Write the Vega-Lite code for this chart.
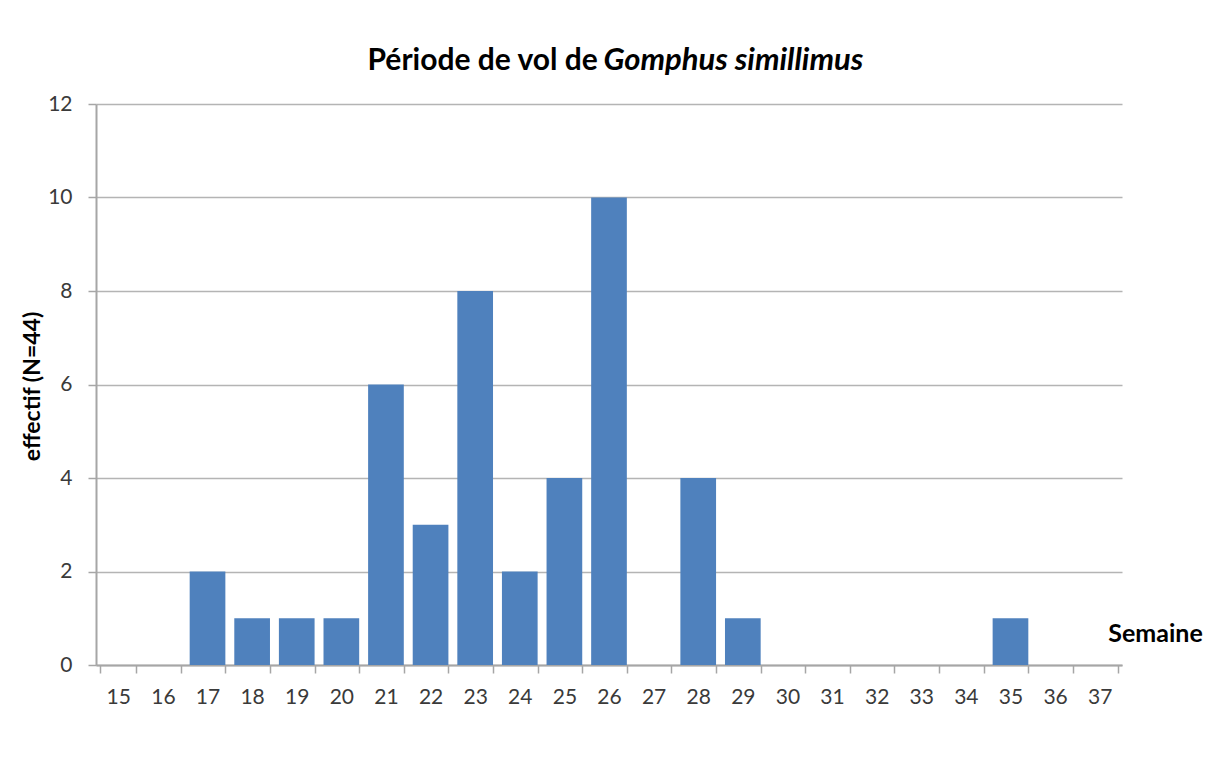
{
  "$schema": "https://vega.github.io/schema/vega-lite/v6.json",
  "width": 1026,
  "height": 561,
  "autosize": "none",
  "padding": {"left": 96, "top": 104, "right": 86, "bottom": 106},
  "background": "white",
  "config": {
    "font": "Lato",
    "view": {"stroke": null},
    "axis": {"labelFont": "Lato", "titleFont": "Lato"}
  },
  "data": {
    "values": [
      {"semaine": 15, "effectif": 0},
      {"semaine": 16, "effectif": 0},
      {"semaine": 17, "effectif": 2},
      {"semaine": 18, "effectif": 1},
      {"semaine": 19, "effectif": 1},
      {"semaine": 20, "effectif": 1},
      {"semaine": 21, "effectif": 6},
      {"semaine": 22, "effectif": 3},
      {"semaine": 23, "effectif": 8},
      {"semaine": 24, "effectif": 2},
      {"semaine": 25, "effectif": 4},
      {"semaine": 26, "effectif": 10},
      {"semaine": 27, "effectif": 0},
      {"semaine": 28, "effectif": 4},
      {"semaine": 29, "effectif": 1},
      {"semaine": 30, "effectif": 0},
      {"semaine": 31, "effectif": 0},
      {"semaine": 32, "effectif": 0},
      {"semaine": 33, "effectif": 0},
      {"semaine": 34, "effectif": 0},
      {"semaine": 35, "effectif": 1},
      {"semaine": 36, "effectif": 0},
      {"semaine": 37, "effectif": 0}
    ]
  },
  "layer": [
    {
      "mark": {"type": "bar", "color": "#4f81bd"},
      "encoding": {
        "x": {
          "field": "semaine",
          "type": "ordinal",
          "scale": {"paddingInner": 0.2, "paddingOuter": 0.1},
          "axis": {
            "orient": "bottom",
            "labelAngle": 0,
            "labelFontSize": 21,
            "labelColor": "#3a3a3a",
            "labelPadding": 13,
            "tickBand": "extent",
            "tickSize": 8,
            "tickColor": "#a6a6a6",
            "tickWidth": 1.5,
            "domainColor": "#a6a6a6",
            "domainWidth": 2,
            "grid": false,
            "title": "Semaine",
            "titleFontSize": 25,
            "titleFontWeight": "bold",
            "titleColor": "#000000",
            "titleAngle": 0,
            "titleAlign": "center",
            "titleBaseline": "middle",
            "titleX": 1059,
            "titleY": -32
          }
        },
        "y": {
          "field": "effectif",
          "type": "quantitative",
          "scale": {"domain": [0, 12]},
          "axis": {
            "orient": "left",
            "values": [0, 2, 4, 6, 8, 10, 12],
            "labelFontSize": 21,
            "labelColor": "#3a3a3a",
            "labelPadding": 16,
            "tickSize": 8,
            "tickColor": "#a6a6a6",
            "tickWidth": 1.5,
            "domainColor": "#a6a6a6",
            "domainWidth": 2,
            "grid": true,
            "gridColor": "#b4b4b4",
            "gridWidth": 1.5,
            "title": "effectif (N=44)",
            "titleFontSize": 23,
            "titleFontWeight": "bold",
            "titleColor": "#000000",
            "titleX": -64,
            "titleY": 282,
            "titleAngle": -90,
            "titleAlign": "center",
            "titleBaseline": "middle"
          }
        }
      }
    },
    {
      "mark": {"type": "bar", "opacity": 0},
      "encoding": {
        "x": {
          "field": "semaine",
          "type": "ordinal",
          "axis": {
            "orient": "top",
            "labels": false,
            "ticks": false,
            "domain": false,
            "grid": false,
            "title": "Gomphus simillimus",
            "titleFontSize": 31,
            "titleFontWeight": "bold",
            "titleFontStyle": "italic",
            "titleColor": "#000000",
            "titleAngle": 0,
            "titleAlign": "left",
            "titleBaseline": "alphabetic",
            "titleX": 507,
            "titleY": -35
          }
        },
        "y": {
          "field": "effectif",
          "type": "quantitative",
          "axis": {
            "orient": "right",
            "labels": false,
            "ticks": false,
            "domain": false,
            "grid": false,
            "title": "Période de vol de",
            "titleFontSize": 30,
            "titleFontWeight": "bold",
            "titleColor": "#000000",
            "titleAngle": 0,
            "titleAlign": "left",
            "titleBaseline": "alphabetic",
            "titleX": -755,
            "titleY": -35
          }
        }
      }
    }
  ],
  "resolve": {"axis": {"x": "independent", "y": "independent"}}
}
